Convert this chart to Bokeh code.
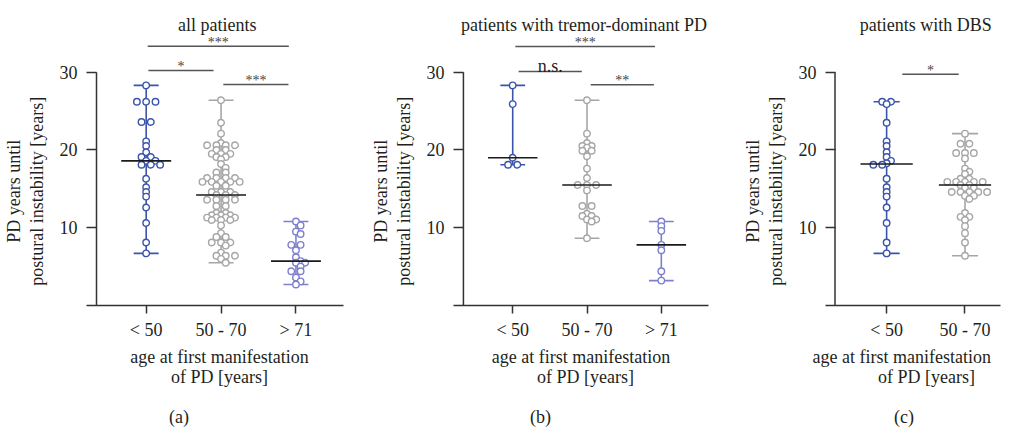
import numpy as np
from bokeh.plotting import figure
from bokeh.layouts import row
from bokeh.models import Range1d, FixedTicker
from bokeh.core.properties import value
from bokeh.embed import file_html
from bokeh.resources import INLINE

# ---------------- data ----------------
categories = ["< 50", "50 - 70", "> 71"]

# (a) all patients
a_lt50 = [28.3, 26.2, 26.2, 26.2, 23.6, 23.6, 21.1, 20.5, 19.7, 19.1, 19.1, 18.6, 18.6,
          18.1, 18.1, 18.1, 16.3, 15.2, 14.6, 14.0, 12.6, 10.6, 8.1, 6.7]
a_50_70 = [26.4, 23.5, 22.1, 20.9, 20.6, 20.6, 20.6, 20.6, 20.0, 20.0, 19.5, 19.5, 19.5,
           19.1, 19.1, 18.8, 18.2, 17.7, 17.1, 17.1, 16.4, 16.4, 16.4, 16.4, 15.9, 15.9,
           15.9, 15.9, 15.9, 15.4, 15.4, 14.6, 14.6, 14.6, 14.2, 14.2, 14.2, 13.6, 13.6,
           13.6, 13.6, 12.8, 12.8, 11.9, 11.9, 11.6, 11.6, 11.6, 11.3, 11.3, 11.3, 11.3,
           11.0, 11.0, 11.0, 10.3, 9.3, 8.8, 8.8, 8.1, 8.1, 8.1, 7.7, 6.8, 6.4, 6.4, 6.4,
           6.0, 5.5]
a_gt71 = [10.8, 10.3, 9.5, 9.2, 7.8, 7.8, 7.1, 6.2, 5.7, 5.5, 5.5, 5.0, 4.4, 4.4, 3.6, 3.1, 2.7]

# (b) patients with tremor-dominant PD
b_lt50 = [28.3, 25.9, 19.0, 18.1, 18.1]
b_50_70 = [26.4, 22.1, 20.9, 20.5, 20.5, 20.3, 19.9, 19.9, 19.2, 17.6, 16.4, 15.5, 15.5,
           15.5, 14.8, 12.8, 12.8, 11.8, 11.5, 11.5, 11.05, 11.05, 10.8, 8.65]
b_gt71 = [10.8, 10.2, 9.6, 7.8, 7.1, 4.4, 3.2]

# (c) patients with DBS
c_lt50 = [26.2, 26.2, 25.9, 23.5, 21.1, 20.5, 19.7, 19.1, 18.6, 18.3, 18.1, 18.1, 16.3,
          15.2, 14.6, 14.0, 12.6, 10.6, 8.1, 6.7]
c_50_70 = [22.1, 20.8, 20.8, 19.6, 19.6, 19.6, 18.9, 17.6, 17.2, 16.9, 16.3, 16.3, 15.9,
           15.9, 15.9, 15.9, 15.9, 15.5, 15.5, 15.1, 15.1, 14.6, 14.6, 14.6, 14.6, 14.6,
           14.1, 14.1, 13.7, 11.9, 11.4, 11.4, 11.0, 10.2, 9.3, 8.1, 6.4]

titles = ["all patients", "patients with tremor-dominant PD", "patients with DBS"]
letters = ["(a)", "(b)", "(c)"]
sig_a = [(1, 3, "***"), (1, 2, "*"), (2, 3, "***")]
sig_b = [(1, 3, "***"), (1, 2, "n.s."), (2, 3, "**")]
sig_c = [(1, 2, "*")]

y_ticks = [10, 20, 30]
x_label_lines = ["age at first manifestation", "of PD [years]"]
y_label_lines = ["PD years until", "postural instability [years]"]

# ---------------- style ----------------
FONT = "Liberation Serif"
TXT = "#231f20"
BLUE = "#3a54aa"
GRAY = "#a6a6a6"
PURPLE = "#7d80cd"
COLORS = [BLUE, GRAY, PURPLE]
H = 429
BOTTOM = 124
PXU = 7.777
YTOP = (H - BOTTOM) / PXU
NB = "\u00a0"


def swarm(vals, kx, ky, h=4.65, dmin=4.6):
    vals = np.asarray(vals, float)
    offs = np.zeros(len(vals))
    placed = []
    for u in sorted(set(vals.tolist()), reverse=True):
        idx = [i for i in range(len(vals)) if vals[i] == u]
        n = len(idx)
        base = [(j - (n - 1) / 2) * 2 * h for j in range(n)]
        y = u * ky
        xs = base
        for k in [0, 1, -1, 2, -2, 3, -3, 4, -4, 5, -5, 6, -6, 7, -7]:
            xs = [b + k * h for b in base]
            if all((x - px) ** 2 + (y - py) ** 2 >= dmin ** 2 for x in xs for px, py in placed):
                break
        for i, x in zip(idx, xs):
            offs[i] = x / kx
        placed += [(x, y) for x in xs]
    return offs


def padded(s, n):
    return NB * max(-n, 0) + s + NB * max(n, 0)


def panel(groups, xr, width, bl, br, title, title_x, letter, pads, sigs, levels, inset):
    p = figure(width=width, height=H, x_range=Range1d(*xr), y_range=Range1d(0, YTOP),
               output_backend="svg", toolbar_location=None, title=None,
               min_border_left=bl, min_border_right=br, min_border_top=0,
               min_border_bottom=BOTTOM)
    p.outline_line_color = None
    p.xgrid.visible = False
    p.ygrid.visible = False
    p.background_fill_color = "white"
    p.border_fill_color = "white"
    fw = width - bl - br
    kx = fw / (xr[1] - xr[0])

    # axes
    ncat = len(groups)
    p.xaxis.ticker = FixedTicker(ticks=list(range(1, ncat + 1)))
    p.xaxis.major_label_overrides = {i + 1: categories[i] for i in range(ncat)}
    l1p, l2p, lp = pads
    p.xaxis.axis_label = "\n".join([padded(x_label_lines[0], l1p),
                                    padded(x_label_lines[1], l2p),
                                    NB, padded(letter, lp)])
    p.yaxis.ticker = FixedTicker(ticks=y_ticks)
    p.yaxis.axis_label = "\n".join(padded(s, 17) for s in y_label_lines)
    for ax in (p.xaxis[0], p.yaxis[0]):
        ax.minor_tick_line_color = None
        ax.major_tick_line_color = "#333333"
        ax.major_tick_line_width = 1.5
        ax.axis_line_color = "#333333"
        ax.axis_line_width = 1.5
        ax.major_label_text_font = FONT
        ax.major_label_text_font_size = "18px"
        ax.major_label_text_color = TXT
        ax.axis_label_text_font = FONT
        ax.axis_label_text_font_size = "18px"
        ax.axis_label_text_font_style = "normal"
        ax.axis_label_text_color = TXT
    p.xaxis.axis_label_text_line_height = 1.0
    p.yaxis.axis_label_text_line_height = 1.12
    p.xaxis.major_tick_in = 0
    p.xaxis.major_tick_out = 8
    p.xaxis.major_label_standoff = 6
    p.xaxis.axis_label_standoff = 4
    p.yaxis.axis_line_color = None
    p.yaxis.major_tick_in = 10
    p.yaxis.major_tick_out = 0
    p.yaxis.major_label_standoff = 9
    p.yaxis.axis_label_standoff = 10
    spine = xr[0] + 10 / kx
    p.segment(x0=[spine], y0=[0], x1=[spine], y1=[30], line_color="#333333", line_width=1.5)

    # data
    cap = 12.5 / 75
    med = 25 / 75
    for i, vals in enumerate(groups):
        c = COLORS[i]
        xc = i + 1
        v = np.asarray(vals)
        lo, hi, md = v.min(), v.max(), float(np.median(v))
        p.segment(x0=[xc], y0=[lo], x1=[xc], y1=[hi], line_color=c, line_width=1.6)
        p.segment(x0=[xc - cap, xc - cap], y0=[lo, hi], x1=[xc + cap, xc + cap], y1=[lo, hi],
                  line_color=c, line_width=1.6)
        xs = xc + swarm(vals, kx, PXU)
        p.scatter(x=xs, y=v, marker="circle", size=6.5, fill_color="white", line_color=c,
                  line_width=1.4)
        p.segment(x0=[xc - med], y0=[md], x1=[xc + med], y1=[md], line_color="#1a1a1a",
                  line_width=1.6)

    # significance bars
    for (a, b, lab), lv, ins in zip(sigs, levels, inset):
        x0, x1 = a + ins[0], b - ins[1]
        p.segment(x0=[x0], y0=[lv], x1=[x1], y1=[lv], line_color="#555555", line_width=1.5)
        star = "*" in lab
        p.text(x=[(x0 + x1) / 2], y=[lv + (4 if star else 5) / PXU], text=[lab],
               text_align="center", text_baseline="alphabetic",
               text_font=value(FONT), text_font_size="14px" if star else "18px",
               text_color="#444444" if star else TXT)

    # title
    p.text(x=[title_x], y=[36.09], text=[title], text_align="center", text_baseline="alphabetic",
           text_font=value(FONT), text_font_size="18px", text_color=TXT)
    return p


pa = panel([a_lt50, a_50_70, a_gt71], (0.203, 3.635), 368, 86, 25, titles[0], 1.95,
           letters[0], (-2, -2, 16), sig_a, [33.35, 30.22, 28.42],
           [(0.02, 0.095), (0.03, 0.1), (0.03, 0.1)])
pb = panel([b_lt50, b_50_70, b_gt71], (0.203, 3.635), 372, 83, 32, titles[1], 1.96,
           letters[1], (0, -2, 18), sig_b, [33.3, 30.1, 28.38],
           [(0.035, 0.085), (0.08, 0.07), (0.05, 0.1)])
pc = panel([c_lt50, c_50_70], (0.22, 2.453), 272, 76, 12, titles[2], 1.5,
           letters[2], (5, -6, 4), sig_c, [29.74], [(0.2, 0.08)])

layout = row(pa, pb, pc)
open("out.html", "w").write(file_html(layout, INLINE))
